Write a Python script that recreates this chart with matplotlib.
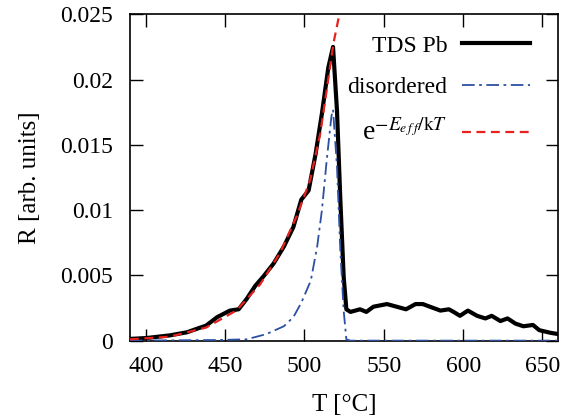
import matplotlib
matplotlib.use("Agg")
import matplotlib.pyplot as plt
from matplotlib.ticker import FuncFormatter

# TDS Pb measurement
T_tds = [390, 400.5, 415, 426, 432, 438, 445, 453, 458.5, 463.6, 469, 474, 480.5,
         487, 493, 498, 502.6, 507, 511, 515, 518, 520.5, 522.6, 524.7, 526.4,
         529, 535, 539, 543.5, 552, 558, 564, 570, 574.6, 579, 585.7, 591, 594,
         598, 603, 608.8, 614, 618, 623.5, 628, 633, 638, 644, 648, 655, 660]
R_tds = [0.00013, 0.0002, 0.0004, 0.00064, 0.0009, 0.00115, 0.0018, 0.0023, 0.0024,
         0.0032, 0.0042, 0.0049, 0.0059, 0.0072, 0.0087, 0.0108, 0.0115, 0.0143,
         0.0174, 0.0209, 0.0225, 0.0176, 0.0108, 0.0049, 0.0024, 0.0022, 0.0024,
         0.0022, 0.0026, 0.0028, 0.0026, 0.0024, 0.0028, 0.0028, 0.0026, 0.0023,
         0.0024, 0.0022, 0.0019, 0.0023, 0.0019, 0.0017, 0.0019, 0.0015, 0.0017,
         0.0013, 0.0011, 0.0012, 0.0008, 0.0006, 0.0005]

# disordered component
T_dis = [390, 447, 463.6, 476, 487, 493, 498, 504, 508, 511, 514, 517, 518,
         520.5, 522.6, 524.7, 526.4, 529, 660]
R_dis = [0.0, 0.00005, 0.0001, 0.0005, 0.0011, 0.0018, 0.0029, 0.0046, 0.0072,
         0.0100, 0.0138, 0.0172, 0.0177, 0.0133, 0.0069, 0.0023, 0.0001, 0.0, 0.0]

# exponential fit e^{-E_eff/kT}
T_fit = [390, 415, 438, 457, 472, 484.5, 495, 503.6, 510, 514, 518.3, 522, 524]
R_fit = [0.0001, 0.0003, 0.001, 0.0023, 0.0043, 0.0067, 0.0095, 0.0123, 0.0159,
         0.0192, 0.0228, 0.025, 0.0265]

x_ticks = [400, 450, 500, 550, 600, 650]
y_ticks = [0, 0.005, 0.01, 0.015, 0.02, 0.025]

plt.rcParams['font.family'] = ['Liberation Serif', 'DejaVu Serif']
plt.rcParams['mathtext.fontset'] = 'stix'

fig = plt.figure(figsize=(5.75, 4.2), dpi=100)
ax = fig.add_axes([0.226, 0.189, 0.745, 0.777])

ax.plot(T_tds, R_tds, color='black', lw=3.0, label='TDS Pb', zorder=3)
ax.plot(T_dis, R_dis, color='#2c4fa3', lw=1.3, ls=(0, (7, 2.5, 1.5, 2.5)),
        label='disordered', zorder=4)
ax.plot(T_fit, R_fit, color='#e8201e', lw=1.6, ls=(0, (4, 2.5)),
        label=r'e$^{-E_{e\,f\,f}/\mathrm{k}T}$', zorder=5)

ax.set_xlim(390, 660)
ax.set_ylim(0, 0.025)
ax.set_xticks(x_ticks)
ax.set_yticks(y_ticks)
ax.yaxis.set_major_formatter(FuncFormatter(lambda v, p: '%g' % v))
ax.tick_params(direction='in', top=True, right=True, length=9, width=1,
               labelsize=17)
ax.tick_params(axis='y', pad=12)
ax.tick_params(axis='x', pad=11)
for s in ax.spines.values():
    s.set_linewidth(1.2)

ax.set_xlabel('T [°C]', fontsize=18, labelpad=12)
ax.set_ylabel('R [arb. units]', fontsize=18, labelpad=14)

leg = ax.legend(loc='upper right', frameon=False, markerfirst=False, fontsize=17,
                handlelength=2.9, handletextpad=0.6, labelspacing=0.85,
                borderaxespad=0, bbox_to_anchor=(0.956, 0.965))
leg.get_texts()[2].set_fontsize(20)

fig.savefig('out.png', dpi=100)
